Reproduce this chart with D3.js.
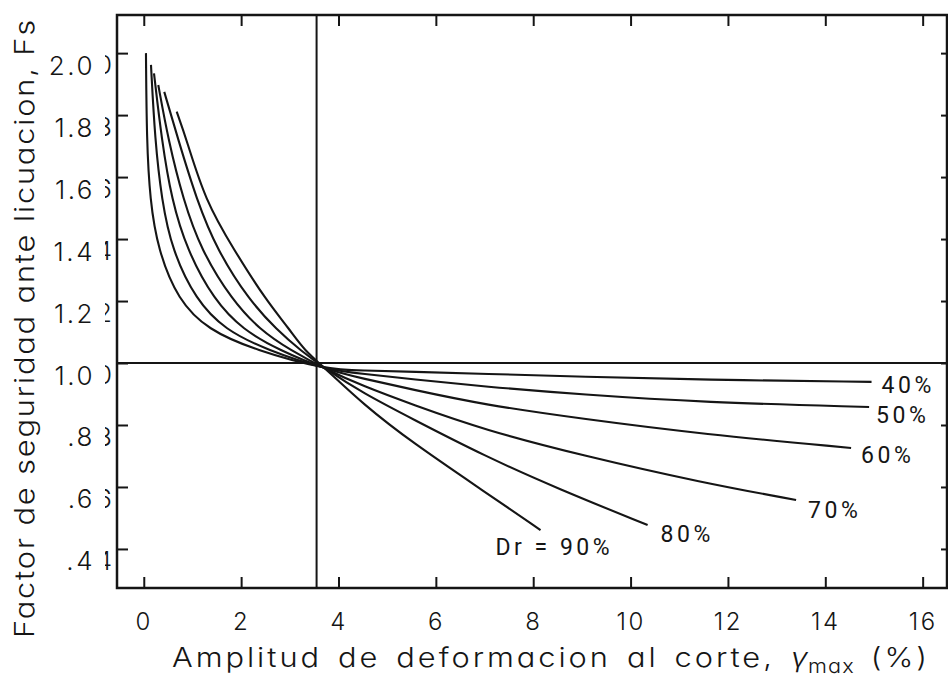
<!DOCTYPE html>
<html>
<head>
<meta charset="utf-8">
<script src="https://cdn.jsdelivr.net/npm/d3@7"></script>
<style>
  body { margin: 0; background: #fff; }
  svg { display: block; }
  .geo { font-family: Inter, "DejaVu Sans", sans-serif; font-feature-settings: "cv11" 1; fill: #151515; font-weight: 350; }
  .tech { font-family: Roboto, "DejaVu Sans", sans-serif; fill: #151515; font-weight: 400; }
</style>
</head>
<body>
<svg id="chart" width="948" height="678"></svg>
<script>
// Relative density of each curve
const densities = ["40%", "50%", "60%", "70%", "80%", "90%"];
const curveLabels = ["40%", "50%", "60%", "70%", "80%", "Dr = 90%"];

// Max shear strain amplitude (%) and factor of safety against liquefaction, per density
const strainDr40 = [0.045, 0.06, 0.127, 0.292, 0.703, 1.319, 2.284, 3.76, 4.5, 5.5, 7.0, 9.0, 11.5, 14.95];
const fsDr40     = [2.00, 1.72, 1.526, 1.365, 1.203, 1.107, 1.042, 0.978, 0.976, 0.972, 0.965, 0.956, 0.946, 0.939];

const strainDr50 = [0.148, 0.23, 0.368, 0.579, 1.072, 1.668, 2.531, 3.76, 4.5, 5.5, 7.0, 9.0, 11.5, 14.90];
const fsDr50     = [1.962, 1.72, 1.526, 1.365, 1.203, 1.107, 1.042, 0.978, 0.965, 0.948, 0.924, 0.898, 0.873, 0.858];

const strainDr60 = [0.21, 0.368, 0.573, 0.887, 1.442, 2.038, 2.777, 3.76, 4.5, 5.5, 7.0, 9.0, 11.5, 14.53];
const fsDr60     = [1.935, 1.72, 1.526, 1.365, 1.203, 1.107, 1.042, 0.978, 0.950, 0.915, 0.865, 0.820, 0.770, 0.726];

const strainDr70 = [0.298, 0.503, 0.811, 1.175, 1.812, 2.387, 3.003, 3.76, 4.5, 5.5, 7.0, 9.0, 11.5, 13.40];
const fsDr70     = [1.897, 1.72, 1.526, 1.365, 1.203, 1.107, 1.042, 0.978, 0.926, 0.867, 0.784, 0.702, 0.613, 0.558];

const strainDr80 = [0.421, 0.709, 1.087, 1.504, 2.161, 2.736, 3.209, 3.76, 4.5, 5.5, 7.0, 8.5, 10.35];
const fsDr80     = [1.875, 1.72, 1.526, 1.365, 1.203, 1.107, 1.042, 0.978, 0.903, 0.821, 0.700, 0.595, 0.477];

const strainDr90 = [0.676, 0.881, 1.257, 1.853, 2.51, 3.003, 3.291, 3.76, 4.5, 5.5, 7.0, 8.15];
const fsDr90     = [1.811, 1.72, 1.526, 1.365, 1.203, 1.107, 1.042, 0.978, 0.868, 0.745, 0.585, 0.461];

// Axis ticks
const xTicks = [0, 2, 4, 6, 8, 10, 12, 14, 16];
const yTicks = [0.4, 0.6, 0.8, 1.0, 1.2, 1.4, 1.6, 1.8, 2.0];
const yTickLabels = [".4", ".6", ".8", "1.0", "1.2", "1.4", "1.6", "1.8", "2.0"];

// Reference lines: Fs = 1 and the strain where the curves cross it
const fsThreshold = 1.0;
const strainAtThreshold = 3.55;

const strainSeries = [strainDr40, strainDr50, strainDr60, strainDr70, strainDr80, strainDr90];
const fsSeries = [fsDr40, fsDr50, fsDr60, fsDr70, fsDr80, fsDr90];

const svg = d3.select("#chart");
const frame = { left: 117, top: 15, right: 947, bottom: 588 };

const x = d3.scaleLinear().domain([-0.55, 16.5]).range([frame.left, frame.right]);
const y = d3.scaleLinear().domain([0.274, 2.123]).range([frame.bottom, frame.top]);

const ink = "#151515";

// Ticks on all four sides, pointing inward
function styleAxis(g) {
  g.select(".domain").remove();
  g.selectAll(".tick line").attr("stroke", ink).attr("stroke-width", 2);
}

svg.append("g")
  .attr("transform", `translate(0,${frame.bottom})`)
  .call(d3.axisBottom(x).tickValues(xTicks).tickSize(-11).tickPadding(25).tickFormat(d3.format("d")))
  .call(styleAxis)
  .call(g => g.selectAll(".tick text")
    .attr("class", "geo").attr("font-size", 24).attr("letter-spacing", 2.5).attr("fill", ink));

svg.append("g")
  .attr("transform", `translate(0,${frame.top})`)
  .call(d3.axisTop(x).tickValues(xTicks).tickSize(-11).tickFormat(""))
  .call(styleAxis);

svg.append("g")
  .attr("transform", `translate(${frame.right},0)`)
  .call(d3.axisRight(y).tickValues(yTicks).tickSize(-6).tickFormat(""))
  .call(styleAxis);

const yAxis = svg.append("g")
  .attr("transform", `translate(${frame.left},0)`)
  .call(d3.axisLeft(y).tickValues(yTicks).tickSize(-11).tickPadding(22)
    .tickFormat((d, i) => yTickLabels[i]))
  .call(styleAxis);

yAxis.selectAll(".tick text")
  .attr("class", "geo").attr("font-size", 26).attr("letter-spacing", 2.5)
  .attr("fill", ink).attr("dy", 21);

// Doubled last digit of each y label, mostly hidden next to the axis
svg.append("defs").append("clipPath").attr("id", "ghostClip")
  .append("rect").attr("x", 105).attr("y", 0).attr("width", 8).attr("height", 678);

svg.append("g").attr("clip-path", "url(#ghostClip)")
  .selectAll("text").data(yTicks).join("text")
  .attr("class", "geo").attr("font-size", 26)
  .attr("text-anchor", "end")
  .attr("x", 112)
  .attr("y", d => y(d) + 21)
  .text((d, i) => yTickLabels[i].slice(-1));

// Frame
svg.append("rect")
  .attr("x", frame.left).attr("y", frame.top)
  .attr("width", frame.right - frame.left).attr("height", frame.bottom - frame.top)
  .attr("fill", "none").attr("stroke", ink).attr("stroke-width", 2.5);

// Reference lines
svg.append("line")
  .attr("x1", x(x.domain()[0])).attr("x2", x(x.domain()[1]))
  .attr("y1", y(fsThreshold)).attr("y2", y(fsThreshold))
  .attr("stroke", ink).attr("stroke-width", 2);

svg.append("line")
  .attr("x1", x(strainAtThreshold)).attr("x2", x(strainAtThreshold))
  .attr("y1", y(y.domain()[0])).attr("y2", y(y.domain()[1]))
  .attr("stroke", ink).attr("stroke-width", 2);

// Curves, smoothed with a B-spline through the read values
const line = d3.line()
  .x(d => x(d[0]))
  .y(d => y(d[1]))
  .curve(d3.curveBasis);

const curves = densities.map((dr, i) => ({
  dr,
  label: curveLabels[i],
  points: strainSeries[i].map((s, j) => [s, fsSeries[i][j]])
}));

svg.append("g").selectAll("path").data(curves).join("path")
  .attr("d", d => line(d.points))
  .attr("fill", "none")
  .attr("stroke", ink)
  .attr("stroke-width", 2.1)
  .attr("stroke-linejoin", "round");

// Density labels next to the end of each curve
const labelShift = { "40%": [10, 11], "50%": [7, 16], "60%": [10, 15], "70%": [12, 18], "80%": [13, 17], "90%": [-45, 25] };
svg.append("g").selectAll("text").data(curves).join("text")
  .attr("class", "tech")
  .attr("font-size", 23)
  .attr("letter-spacing", 3.5)
  .attr("x", d => x(d.points[d.points.length - 1][0]) + labelShift[d.dr][0])
  .attr("y", d => y(d.points[d.points.length - 1][1]) + labelShift[d.dr][1])
  .text(d => d.label);

// Spread (or tighten) a title so that it spans the given length
function fitWords(sel, target, spacing) {
  const node = sel.node();
  const natural = node.getComputedTextLength();
  const text = node.textContent;
  const spaces = (text.match(/ /g) || []).length;
  const extra = target - natural;
  if (extra >= 0 && spaces > 0) {
    sel.attr("word-spacing", extra / spaces);
  } else {
    sel.attr("letter-spacing", spacing + extra / text.length);
  }
}

// Axis titles, drawn in a slightly widened face
const stretch = 1.14;

const xTitle = svg.append("text")
  .attr("class", "geo")
  .attr("font-size", 27)
  .attr("letter-spacing", 2.6)
  .attr("transform", `translate(172,667) scale(${stretch},1)`);
xTitle.append("tspan").text("Amplitud de deformacion al corte, ");
xTitle.append("tspan").attr("font-style", "italic").attr("letter-spacing", 0).text("γ");
xTitle.append("tspan").attr("font-size", 19).attr("letter-spacing", 1).attr("dy", 6).text("max");
xTitle.append("tspan").attr("dy", -6).text(" (%)");
fitWords(xTitle, 758 / stretch, 2.6);

const yTitle = svg.append("text")
  .attr("class", "geo")
  .attr("font-size", 27)
  .attr("letter-spacing", 1.6)
  .attr("transform", `translate(34,638) rotate(-90) scale(${stretch},1)`)
  .text("Factor de seguridad ante licuacion, Fs");
fitWords(yTitle, 620 / stretch, 1.6);
</script>
</body>
</html>
